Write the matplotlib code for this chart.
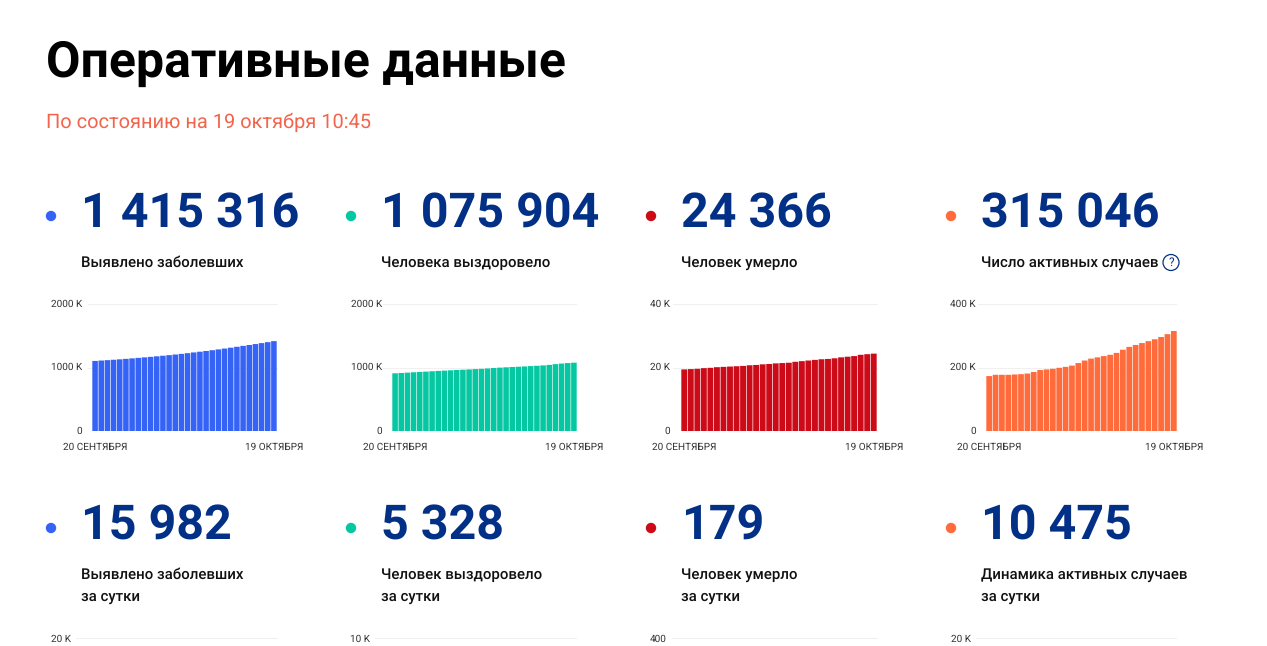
import matplotlib
matplotlib.use("Agg")
import matplotlib.pyplot as plt
from matplotlib.patches import Circle
from matplotlib.ticker import FuncFormatter
from matplotlib.transforms import ScaledTranslation

plt.rcParams['font.family'] = ['Roboto', 'DejaVu Sans']
plt.rcParams['text.hinting'] = 'no_hinting'

W, H = 1267, 646

title = "Оперативные данные"
subtitle = "По состоянию на 19 октября 10:45"
date_labels = ["20 СЕНТЯБРЯ", "19 ОКТЯБРЯ"]

numbers_top = ["1 415 316", "1 075 904", "24 366", "315 046"]
labels_top = ["Выявлено заболевших", "Человека выздоровело", "Человек умерло", "Число активных случаев"]
numbers_bottom = ["15 982", "5 328", "179", "10 475"]
labels_bottom = ["Выявлено заболевших\nза сутки", "Человек выздоровело\nза сутки",
                 "Человек умерло\nза сутки", "Динамика активных случаев\nза сутки"]
colors = ["#3563F6", "#05C8A3", "#CC0A18", "#FF6B3B"]

infected = [1103.4, 1109.6, 1115.8, 1122.2, 1128.8, 1136.0, 1143.6, 1151.4, 1159.6, 1167.8,
            1176.3, 1185.2, 1194.6, 1204.5, 1214.5, 1225.7, 1237.5, 1248.6, 1260.1, 1272.2,
            1285.1, 1298.7, 1312.3, 1326.2, 1340.4, 1354.2, 1369.3, 1384.2, 1399.3, 1415.3]
recovered = [909, 914, 919, 925, 930, 935, 941, 946, 951, 956,
             961, 965, 970, 975, 979, 985, 992, 998, 1003, 1008,
             1012, 1017, 1022, 1027, 1033, 1041, 1053, 1062, 1070, 1075.9]
deaths = [19.4, 19.5, 19.6, 19.8, 19.9, 20.1, 20.2, 20.3, 20.4, 20.5,
          20.7, 20.8, 21.0, 21.1, 21.3, 21.4, 21.5, 21.8, 22.0, 22.2,
          22.4, 22.6, 22.7, 22.9, 23.2, 23.4, 23.6, 24.0, 24.19, 24.37]
active = [173, 177, 177, 177, 178, 179, 181, 186, 192, 194,
          196, 199, 202, 206, 214, 222, 228, 232, 236, 240,
          246, 256, 265, 271, 277, 283, 289, 296, 305, 315]
series = [infected, recovered, deaths, active]
y_ticks = [[0, 1000, 2000], [0, 1000, 2000], [0, 20, 40], [0, 200, 400]]
y_ticks_bottom_top = [20, 10, 400, 20]
y_bottom_labels = ["20 K", "10 K", "400", "20 K"]

grid_left = [88, 383, 673, 978]
grid_left_bottom = [76, 375, 672, 976]
grid_right = [278, 577, 878, 1177]
bars_left = [92, 392, 681, 986]
bars_right = [277, 577, 877, 1177]
label_gap = [6, 1, 3, 2]
dot_x = [51, 351, 651, 951]
text_x = [81, 381, 681, 981]
PX = 72 / 100
GRID = "#F0F0F0"

fig = plt.figure(figsize=(W / 100, H / 100), dpi=100, facecolor="white")
ov = fig.add_axes([0, 0, 1, 1], zorder=5)
ov.set_xlim(0, W)
ov.set_ylim(H, 0)
ov.axis("off")
ov.patch.set_alpha(0)

ov.text(46, 63.5, title, fontsize=36, fontweight="bold", color="#000000", va="center")
ov.text(46, 122, subtitle, fontsize=14.4, color="#F2654C", va="center")


def fmt(v, _):
    return "0" if v == 0 else f"{int(v)} K"


def nudge_up(axis, px):
    for lab in axis.get_ticklabels():
        lab.set_transform(lab.get_transform() + ScaledTranslation(0, px / 100, fig.dpi_scale_trans))


NUM_BLUE = "#033087"
for i in range(4):
    for y_num, y_dot, nums in ((214, 216, numbers_top), (526, 528, numbers_bottom)):
        ov.add_patch(Circle((dot_x[i], y_dot), 5.2, color=colors[i], lw=0))
        ov.text(text_x[i], y_num, nums[i], fontsize=34.8, fontweight="bold", color=NUM_BLUE, va="center")
    ov.text(text_x[i], 262.5, labels_top[i], fontsize=10.8, fontweight="medium", color="#111111", va="center")
    ov.text(text_x[i], 586, labels_bottom[i], fontsize=10.8, fontweight="medium", color="#111111",
            va="center", linespacing=1.7)

    # top-row chart
    left, right = grid_left[i], grid_right[i]
    ax = fig.add_axes([left / W, 1 - 431 / H, (right - left) / W, 127 / H])
    n = len(series[i])
    step = (bars_right[i] - bars_left[i]) / n
    ax.bar(range(n), series[i], width=0.9, color=colors[i], zorder=3, snap=False, lw=0)
    ax.set_xlim(-0.5 - (bars_left[i] - left) / step, n - 0.5 + (right - bars_right[i]) / step)
    ax.set_ylim(0, y_ticks[i][-1])
    ax.set_yticks(y_ticks[i])
    ax.yaxis.set_major_formatter(FuncFormatter(fmt))
    ax.set_xticks([0, n - 1])
    ax.set_xticklabels(date_labels)
    ax.tick_params(axis="both", length=0, labelsize=7.2, labelcolor="#333333")
    ax.tick_params(axis="x", pad=8)
    ax.tick_params(axis="y", pad=label_gap[i] * PX)
    ax.grid(axis="y", color=GRID, lw=0.8, zorder=0)
    for s in ax.spines.values():
        s.set_visible(False)
    fig.canvas.draw_idle()
    nudge_up(ax.yaxis, 1)

    # bottom-row chart: only the top gridline falls inside the picture
    left_b = grid_left_bottom[i]
    ax2 = fig.add_axes([left_b / W, 1 - 765 / H, (right - left_b) / W, 127 / H])
    ax2.set_xlim(0, 1)
    ax2.set_ylim(0, y_ticks_bottom_top[i])
    ax2.set_yticks([y_ticks_bottom_top[i]])
    ax2.set_yticklabels([y_bottom_labels[i]])
    ax2.set_xticks([])
    ax2.tick_params(axis="y", length=0, labelsize=7.2, labelcolor="#333333", pad=5 * PX)
    ax2.grid(axis="y", color=GRID, lw=0.8)
    for s in ax2.spines.values():
        s.set_visible(False)

# help icon
ov.add_patch(Circle((1171, 262.5), 8, facecolor="none", edgecolor="#033087", lw=0.9))
ov.text(1171, 262.5, "?", fontsize=8.5, color="#033087", ha="center", va="center")

fig.savefig("out.png", dpi=100)
